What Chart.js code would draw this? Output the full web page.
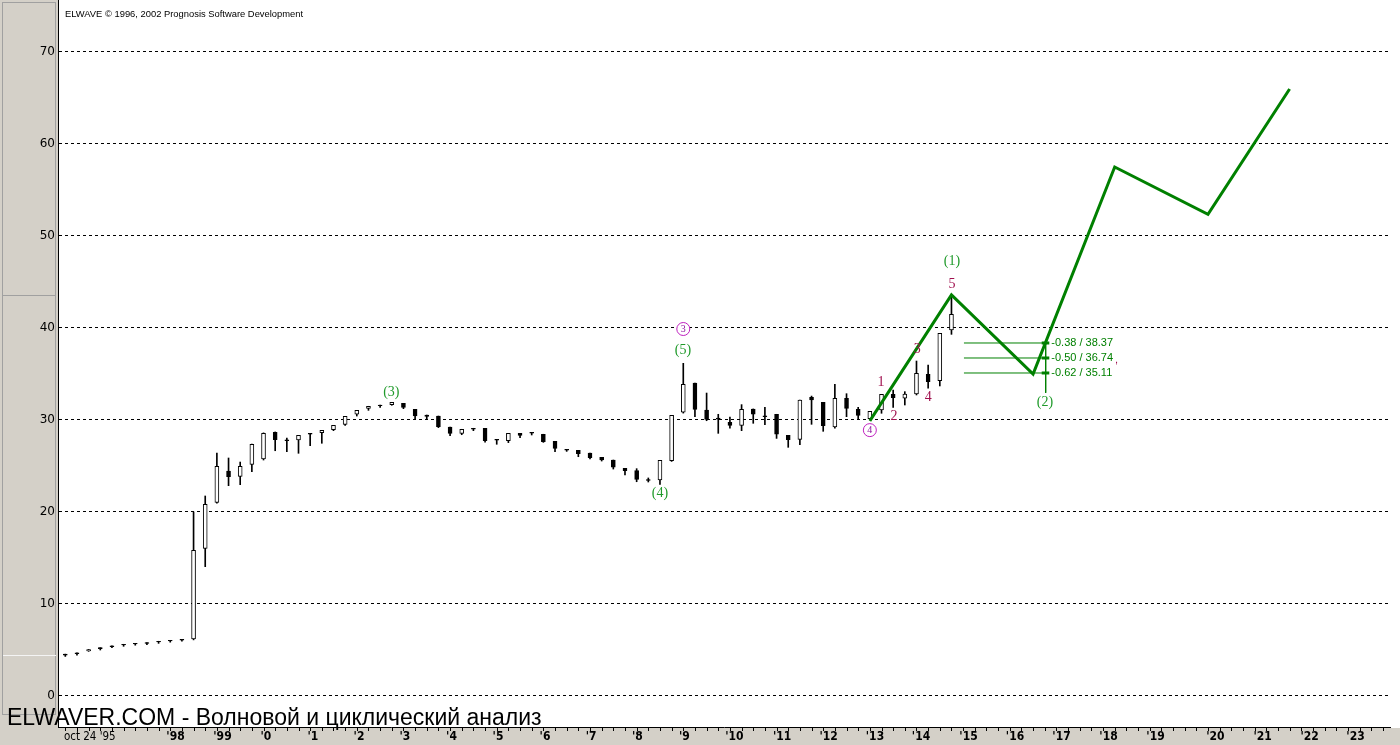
<!DOCTYPE html>
<html>
<head>
<meta charset="utf-8">
<script src="https://cdn.jsdelivr.net/npm/chart.js@4.4.1/dist/chart.umd.min.js"></script>
<style>
html, body { margin: 0; padding: 0; background: #fff; overflow: hidden; }
canvas { display: block; }
</style>
</head>
<body>
<canvas id="chart" width="1400" height="745"></canvas>
<script>
// candle data, one entry per bar (index = bar number)
const opens = [4.55, 4.70, 4.90, 5.25, 5.45, 5.62, 5.72, 5.80, 5.95, 6.05, 6.15,
  6.20, 16.05, 21.05, 24.46, 23.88, 25.18, 25.76, 28.66, 27.85, 27.83,
  28.55, 28.62, 28.95, 29.53, 30.62, 31.27, 31.63, 31.67, 31.80, 31.16,
  30.54, 30.43, 29.24, 28.55, 29.10, 29.10, 27.90, 27.75, 28.55, 28.66,
  28.45, 27.68, 26.81, 26.70, 26.41, 25.94, 25.65, 24.74, 24.49, 23.53,
  23.48, 25.58, 30.84, 34.02, 31.09, 30.20, 29.74, 29.42, 31.20, 30.45,
  30.62, 28.33, 27.90, 32.47, 31.92, 29.24, 32.36, 31.16, 30.14, 31.09,
  32.79, 32.36, 32.83, 34.96, 34.27, 39.78]
const highs = [4.55, 4.70, 5.05, 5.25, 5.45, 5.62, 5.72, 5.80, 5.95, 6.05, 6.15,
  20.00, 21.74, 26.41, 25.87, 25.43, 27.39, 28.60, 28.70, 28.04, 28.33,
  28.55, 28.88, 29.42, 30.40, 31.05, 31.49, 31.63, 31.92, 31.80, 31.16,
  30.54, 30.43, 29.24, 28.99, 29.10, 29.10, 27.90, 28.55, 28.55, 28.66,
  28.45, 27.68, 26.81, 26.70, 26.41, 25.94, 25.65, 24.74, 24.71, 23.70,
  25.62, 30.51, 36.16, 34.02, 32.93, 30.62, 30.33, 31.67, 31.20, 31.38,
  30.62, 28.33, 32.17, 32.60, 31.92, 33.88, 32.86, 31.38, 30.95, 32.79,
  33.26, 33.08, 36.41, 35.98, 39.42, 43.59]
const lows = [4.30, 4.45, 4.85, 5.00, 5.25, 5.40, 5.52, 5.58, 5.72, 5.85, 5.95,
  6.10, 14.06, 20.95, 22.86, 22.97, 24.38, 25.65, 26.66, 26.56, 26.38,
  27.20, 27.47, 28.84, 29.42, 30.43, 31.05, 31.38, 31.60, 31.23, 30.10,
  30.14, 29.17, 28.30, 28.40, 28.84, 27.60, 27.36, 27.54, 28.08, 28.37,
  27.57, 26.56, 26.59, 26.01, 25.76, 25.54, 24.67, 24.02, 23.29, 23.26,
  23.00, 25.50, 30.75, 30.36, 29.92, 28.55, 29.10, 28.84, 29.64, 29.49,
  28.00, 27.03, 27.32, 29.53, 28.77, 29.10, 30.36, 30.14, 30.00, 30.73,
  31.38, 31.63, 32.72, 33.45, 33.70, 39.31]
const closes = [4.45, 4.60, 5.05, 5.15, 5.35, 5.55, 5.65, 5.72, 5.87, 5.98, 6.08,
  15.84, 20.84, 24.96, 23.84, 24.96, 27.36, 28.55, 27.86, 27.75, 28.33,
  28.45, 28.88, 29.42, 30.40, 31.05, 31.49, 31.55, 31.92, 31.38, 30.43,
  30.40, 29.27, 28.55, 28.99, 29.00, 27.75, 27.80, 28.55, 28.33, 28.58,
  27.64, 26.92, 26.73, 26.34, 25.90, 25.65, 24.86, 24.49, 23.55, 23.43,
  25.62, 30.51, 33.88, 31.16, 30.07, 30.08, 29.42, 31.16, 30.62, 30.35,
  28.45, 27.86, 32.17, 32.17, 29.38, 32.36, 31.27, 30.51, 30.95, 32.79,
  32.42, 32.83, 35.07, 34.16, 39.42, 41.49]

// x axis labels and where they sit (in bar numbers)
const xTickPos = [2.1, 9.45, 13.48, 17.21, 21.24, 25.19, 29.13, 33.12, 37.11, 41.14, 45.09,
  49.07, 53.1, 57.39, 61.47, 65.46, 69.44, 73.39, 77.46, 81.45, 85.44, 89.47, 93.5,
  98.64, 102.68, 106.71, 110.65]
const xTickLabels = ["oct 24 '95", "'98", "'99", "'0", "'1", "'2", "'3", "'4", "'5", "'6", "'7",
  "'8", "'9", "'10", "'11", "'12", "'13", "'14", "'15", "'16", "'17", "'18", "'19",
  "'20", "'21", "'22", "'23"]
const yTicks = [0, 10, 20, 30, 40, 50, 60, 70]

// projected wave path
const projX = [69, 76, 83, 90, 98, 105]
const projY = [29.9, 43.59, 35.0, 57.5, 52.36, 65.98]

// retracement levels
const fibRatios = ['0.38', '0.50', '0.62']
const fibLevels = [38.37, 36.74, 35.11]
const fibStart = 77.07
const fibEnd = 84.17
const fibMark = [83.74, 84.39]
const fibStem = [84.08, 32.95]

// wave labels
const greenWaves = ['(3)', '(4)', '(5)', '(1)', '(2)']
const greenWaveX = [27.96, 51.0, 52.97, 76.04, 84.02]
const greenWaveY = [33.04, 22.07, 37.6, 47.28, 31.96]
const redWaves = ['1', '2', '3', '4', '5']
const redWaveX = [69.96, 71.07, 73.06, 74.0, 76.04]
const redWaveY = [34.13, 30.43, 37.72, 32.5, 44.78]
const circledWaves = ['3', '4']
const circledX = [53.0, 69.0]
const circledY = [39.89, 28.9]

const GREY = '#d4d0c8'
const GREEN = '#008000'

const frame = {
    id: 'frame',
    beforeDraw(chart) {
        const c = chart.ctx
        c.save()
        c.fillStyle = '#fff'
        c.fillRect(0, 0, chart.width, chart.height)
        c.fillStyle = GREY
        c.fillRect(0, 0, 58, chart.height)
        c.fillRect(0, 728, chart.width, chart.height - 728)
        c.strokeStyle = '#a0a0a0'
        c.lineWidth = 1
        c.strokeRect(2.5, 2.5, 53, 712)
        c.beginPath()
        c.moveTo(3, 295.5); c.lineTo(56, 295.5)
        c.stroke()
        c.strokeStyle = '#f4f4f4'
        c.beginPath()
        c.moveTo(3, 655.5); c.lineTo(56, 655.5)
        c.stroke()
        c.restore()
    },
    afterDraw(chart) {
        const c = chart.ctx
        const xs = chart.scales.x
        c.save()
        // small ticks under the time axis
        c.strokeStyle = '#000'
        c.lineWidth = 1
        c.beginPath()
        for (let i = 0; i <= 113; i++) {
            const px = Math.round(xs.getPixelForValue(i)) + 0.5
            c.moveTo(px, 728); c.lineTo(px, 731)
        }
        c.stroke()
        c.fillStyle = '#000'
        c.textBaseline = 'alphabetic'
        c.font = '9.4px "Liberation Sans", Arial, sans-serif'
        c.fillText('ELWAVE \u00a9 1996, 2002 Prognosis Software Development', 65, 17)
        c.font = '23px "Liberation Sans", Arial, sans-serif'
        c.fillText('ELWAVER.COM - Волновой и циклический анализ', 7, 725)
        c.restore()
    },
    afterDatasetsDraw(chart) {
        const c = chart.ctx
        const xs = chart.scales.x, ys = chart.scales.y
        const px = v => xs.getPixelForValue(v)
        const py = v => ys.getPixelForValue(v)
        c.save()
        c.textAlign = 'center'
        c.textBaseline = 'middle'
        c.font = '14px "Liberation Serif", "Times New Roman", serif'
        c.fillStyle = '#1f9a2a'
        greenWaves.forEach((t, k) => c.fillText(t, px(greenWaveX[k]), py(greenWaveY[k])))
        c.fillStyle = '#a0104e'
        redWaves.forEach((t, k) => c.fillText(t, px(redWaveX[k]), py(redWaveY[k])))
        circledWaves.forEach((t, k) => {
            const x = px(circledX[k]), y = py(circledY[k])
            c.strokeStyle = '#c020c0'
            c.lineWidth = 1
            c.fillStyle = '#fff'
            c.beginPath()
            c.arc(x, y, 6.5, 0, Math.PI * 2)
            c.fill()
            c.stroke()
            c.fillStyle = '#9010a0'
            c.font = '10px "Liberation Serif", serif'
            c.fillText(t, x, y + 0.5)
        })
        // retracement texts
        c.textAlign = 'left'
        c.fillStyle = GREEN
        c.font = '11px "Liberation Sans", Arial, sans-serif'
        fibLevels.forEach((lv, k) => {
            c.fillText('-' + fibRatios[k] + ' / ' + lv.toFixed(2), px(fibMark[1]) + 2, py(lv))
        })
        c.fillStyle = '#a0104e'
        c.fillText(',', px(90.02), py(36.5))
        c.restore()
    }
}

const candleBodies = opens.map((o, i) => ({x: i, y: [o, closes[i]]}))
const candleWicks = lows.map((l, i) => ({x: i, y: [l, highs[i]]}))

const fibSets = []
fibLevels.forEach(lv => {
    fibSets.push({
        type: 'line', data: [{x: fibStart, y: lv}, {x: fibEnd, y: lv}],
        borderColor: GREEN, borderWidth: 1, pointRadius: 0, order: 0
    })
    fibSets.push({
        type: 'line', data: [{x: fibMark[0], y: lv}, {x: fibMark[1], y: lv}],
        borderColor: GREEN, borderWidth: 3, pointRadius: 0, order: 0
    })
})
fibSets.push({
    type: 'line', data: [{x: fibStem[0], y: fibLevels[0]}, {x: fibStem[0], y: fibStem[1]}],
    borderColor: GREEN, borderWidth: 1, pointRadius: 0, order: 0
})

const ctx = document.getElementById('chart').getContext('2d')
new Chart(ctx, {
    type: 'bar',
    data: {
        datasets: [
            {
                type: 'line',
                data: projX.map((x, k) => ({x, y: projY[k]})),
                borderColor: GREEN,
                borderWidth: 3,
                pointRadius: 0,
                tension: 0,
                order: 0
            },
            ...fibSets,
            {
                data: candleBodies,
                barThickness: 4,
                grouped: false,
                borderSkipped: false,
                borderWidth: 1,
                borderColor: '#000',
                backgroundColor: c => closes[c.dataIndex] >= opens[c.dataIndex] ? '#fff' : '#000',
                order: 1
            },
            {
                data: candleWicks,
                barThickness: 1,
                grouped: false,
                borderWidth: 0,
                backgroundColor: '#000',
                order: 2
            }
        ]
    },
    options: {
        responsive: false,
        animation: false,
        devicePixelRatio: 1,
        layout: {autoPadding: false, padding: {left: 0, right: 10, top: 0, bottom: 0}},
        plugins: {legend: {display: false}, tooltip: {enabled: false}},
        scales: {
            x: {
                type: 'linear',
                min: -0.626,
                max: 113.61,
                offset: false,
                grid: {display: false, drawTicks: false},
                border: {display: true, color: '#000', width: 1},
                afterBuildTicks: s => { s.ticks = xTickPos.map(v => ({value: v})) },
                afterFit: s => {
                    s.height = 18
                    s.paddingLeft = 0
                    s.paddingRight = 0
                },
                ticks: {
                    autoSkip: false,
                    maxRotation: 0,
                    padding: 3,
                    color: '#000',
                    font: c => c.index === 0
                        ? {family: '"DejaVu Sans Condensed", "Liberation Sans Narrow", Arial', size: 11.5}
                        : {family: '"DejaVu Sans Condensed", "Liberation Sans Narrow", Arial', size: 12, weight: 'bold'},
                    callback: (v, i) => xTickLabels[i]
                }
            },
            y: {
                min: -3.37,
                max: 75.652,
                grid: {color: '#000', lineWidth: 1, drawTicks: false},
                border: {display: true, color: '#000', width: 1, dash: [3, 3]},
                afterBuildTicks: s => { s.ticks = yTicks.map(v => ({value: v})) },
                afterFit: s => {
                    s.width = 58
                    s.paddingTop = 0
                    s.paddingBottom = 0
                },
                ticks: {
                    padding: 3,
                    color: '#000',
                    font: {family: '"DejaVu Sans", sans-serif', size: 12}
                }
            }
        }
    },
    plugins: [frame]
})
</script>
</body>
</html>
